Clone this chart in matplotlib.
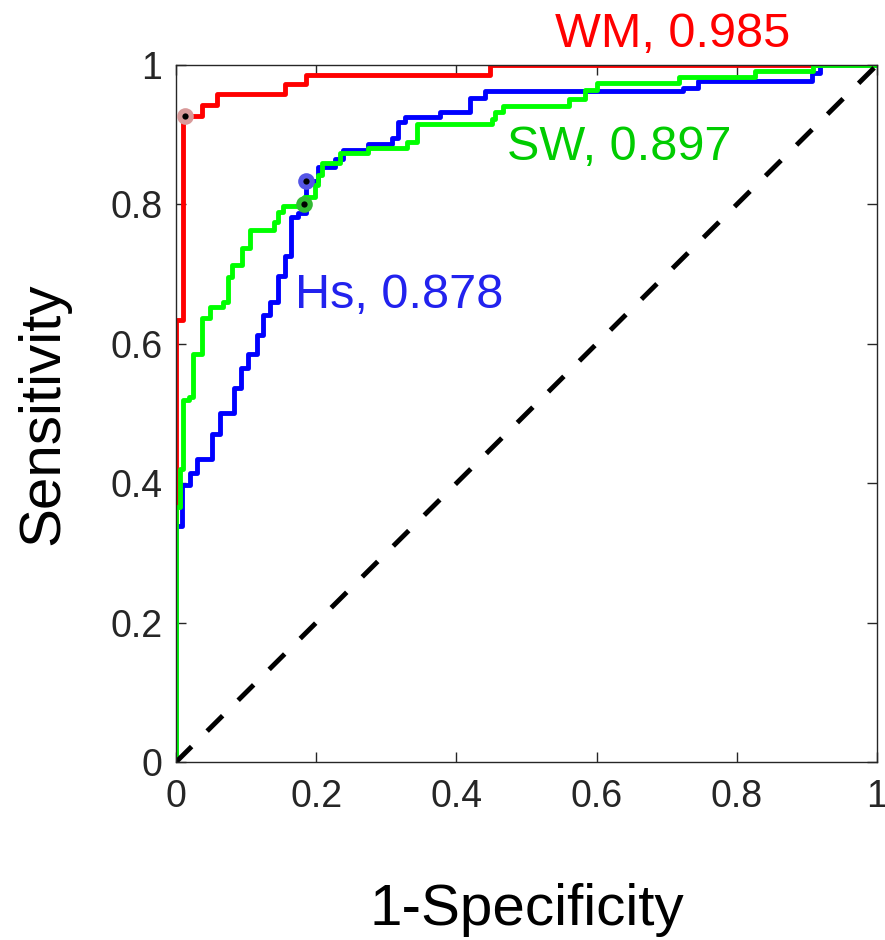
import matplotlib
matplotlib.use("Agg")
import matplotlib.pyplot as plt

plt.rcParams["font.family"] = ["Liberation Sans", "DejaVu Sans"]

# ── ROC staircases: x of each riser, y reached after the rise ────────────────
wm_fpr = [0, 0, 0.010, 0.037, 0.058, 0.155, 0.186, 0.448, 1.0]
wm_tpr = [0, 0.634, 0.927, 0.943, 0.959, 0.972, 0.986, 1.0, 1.0]

hs_fpr = [0, 0, 0.008, 0.020, 0.030, 0.051, 0.062, 0.082, 0.092, 0.103, 0.115,
          0.124, 0.134, 0.145, 0.155, 0.164, 0.174, 0.185, 0.203, 0.227, 0.238,
          0.274, 0.308, 0.317, 0.327, 0.377, 0.419, 0.441, 0.723, 0.745, 0.907,
          0.919, 1.0]
hs_tpr = [0, 0.338, 0.397, 0.415, 0.435, 0.471, 0.500, 0.537, 0.565, 0.585, 0.613,
          0.641, 0.660, 0.697, 0.726, 0.782, 0.787, 0.834, 0.854, 0.865, 0.878,
          0.887, 0.895, 0.918, 0.925, 0.933, 0.953, 0.963, 0.967, 0.977, 0.989,
          1.0, 1.0]

sw_fpr = [0, 0, 0.006, 0.010, 0.018, 0.024, 0.037, 0.049, 0.067, 0.074, 0.080,
          0.094, 0.106, 0.139, 0.146, 0.153, 0.183, 0.198, 0.203, 0.208, 0.234,
          0.274, 0.329, 0.343, 0.450, 0.455, 0.467, 0.560, 0.583, 0.600, 0.717,
          0.826, 0.909, 1.0]
sw_tpr = [0, 0.366, 0.421, 0.519, 0.524, 0.586, 0.637, 0.653, 0.660, 0.696, 0.713,
          0.737, 0.763, 0.775, 0.789, 0.798, 0.811, 0.828, 0.842, 0.859, 0.873,
          0.881, 0.890, 0.915, 0.923, 0.933, 0.941, 0.951, 0.964, 0.974, 0.983,
          0.991, 1.0, 1.0]

# operating points marked on each curve
wm_opt = (0.012, 0.927)
hs_opt = (0.185, 0.834)
sw_opt = (0.183, 0.801)

labels = ["WM, 0.985", "Hs, 0.878", "SW, 0.897"]
ticks = [0, 0.2, 0.4, 0.6, 0.8, 1]
tick_labels = ["0", "0.2", "0.4", "0.6", "0.8", "1"]

# ── figure ────────────────────────────────────────────────────────────────────
fig = plt.figure(figsize=(8.85, 9.4), dpi=100)
ax = fig.add_axes([0.199, 0.1894, 0.792, 0.7415])

lw = 3.5
ax.step(wm_fpr, wm_tpr, where="post", color="#ff0000", lw=lw)
ax.step(hs_fpr, hs_tpr, where="post", color="#0000ff", lw=lw)
ax.step(sw_fpr, sw_tpr, where="post", color="#00ff00", lw=lw)
ax.plot([0, 1], [0, 1], color="black", lw=lw, dashes=(4.5, 4.5),
        dash_capstyle="butt")

# optimal points: coloured halo with black centre
for (px, py), halo in zip([wm_opt, hs_opt, sw_opt],
                          ["#d99a9a", "#5555e6", "#33bb33"]):
    ax.plot(px, py, "o", ms=12, color=halo, mec="none", zorder=5)
    ax.plot(px, py, "o", ms=4.5, color="black", mec="none", zorder=6)

# AUC labels
ax.text(0.540, 1.026, labels[0], color="#ff0000", fontsize=35, clip_on=False)
ax.text(0.170, 0.651, labels[1], color="#2222ee", fontsize=35)
ax.text(0.472, 0.864, labels[2], color="#00cc00", fontsize=35)

ax.set_xlim(0, 1)
ax.set_ylim(0, 1)
ax.set_xticks(ticks)
ax.set_xticklabels(tick_labels)
ax.set_yticks(ticks)
ax.set_yticklabels(tick_labels)
ax.tick_params(direction="in", length=7, width=1, colors="#262626",
               labelsize=27, top=True, right=True)
ax.tick_params(axis="x", pad=12)
ax.tick_params(axis="y", pad=10)
for sp in ax.spines.values():
    sp.set_color("#262626")
    sp.set_linewidth(1)

ax.set_xlabel("1-Specificity", fontsize=42)
ax.xaxis.label.set_va("baseline")
ax.xaxis.set_label_coords(0.5, -0.234)
ax.set_ylabel("Sensitivity", fontsize=42)
ax.yaxis.label.set_va("baseline")
ax.yaxis.set_label_coords(-0.168, 0.5)

fig.savefig("out.png", dpi=100)
